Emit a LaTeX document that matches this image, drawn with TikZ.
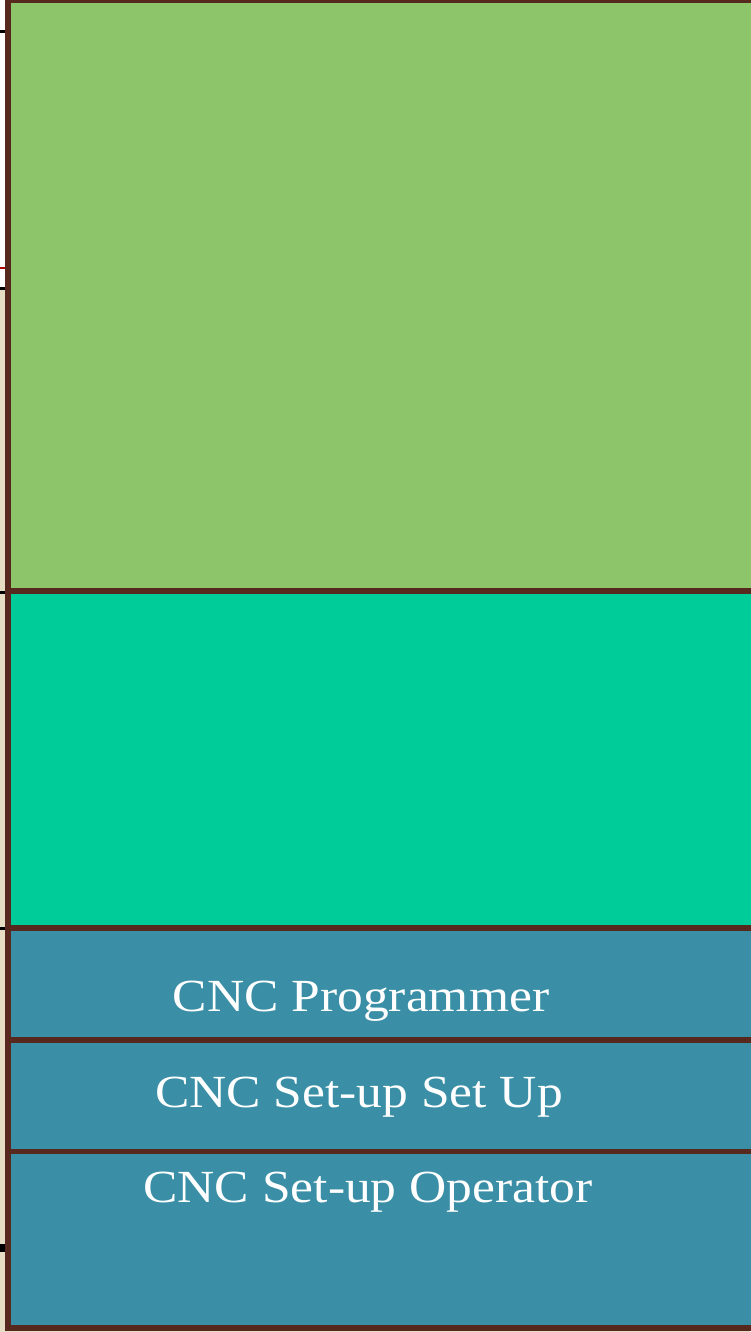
\documentclass[tikz,border=0pt]{standalone}
\usepackage{fontspec}
\setmainfont[FakeStretch=1.12]{Liberation Serif}
\definecolor{gr}{RGB}{141,198,106}
\definecolor{tl}{RGB}{0,204,153}
\definecolor{bl}{RGB}{58,143,166}
\definecolor{br}{RGB}{86,40,30}
\definecolor{bg}{RGB}{231,220,196}
\begin{document}
\begin{tikzpicture}[x=1pt,y=-1pt,
  box/.style={draw=br,line width=5.5pt,anchor=north west,inner sep=0pt,outer sep=0pt},
  lbl/.style={text=white,font=\fontsize{46}{52}\selectfont,anchor=base},
  tick/.style={line width=3pt}]
\useasboundingbox (0,0) rectangle (750,1332);
\fill[white] (0,0) rectangle (750,1332);
\fill[bg] (0,290) rectangle (8,1332);
\fill[bg] (0,1329) rectangle (750,1332);
% boxes
\node[box,fill=gr,minimum width=760pt,minimum height=591pt] (g) at (8,0) {};
\node[box,fill=tl,minimum width=760pt,minimum height=337pt] (t) at (8,591) {};
\node[box,fill=bl,minimum width=760pt,minimum height=112pt] (b1) at (8,928) {};
\node[box,fill=bl,minimum width=760pt,minimum height=111.5pt] (b2) at (8,1040) {};
\node[box,fill=bl,minimum width=760pt,minimum height=176.5pt] (b3) at (8,1151.5) {};
% labels
\node[lbl] (l1) at (361,1011) {CNC Programmer};
\node[lbl] (l2) at (359,1107) {CNC Set-up Set Up};
\node[lbl] (l3) at (368,1202) {CNC Set-up Operator};
% ticks
\draw[tick] (0,31.5) -- (5,31.5);
\draw[tick,red!70!black,line width=2pt] (0,268) -- (5,268);
\draw[tick] (0,288) -- (5,288);
\draw[tick] (0,592) -- (5,592);
\draw[tick] (0,928) -- (5,928);
\draw[tick,line width=8pt] (0,1247.5) -- (5,1247.5);
\end{tikzpicture}
\end{document}
